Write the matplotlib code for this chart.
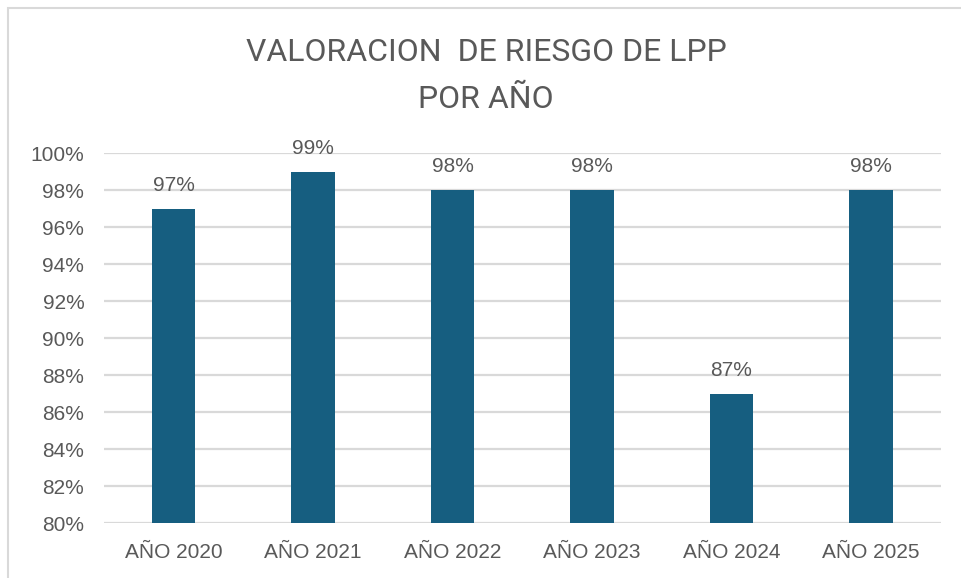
import matplotlib.pyplot as plt
from matplotlib.patches import Rectangle
from matplotlib.ticker import FuncFormatter

# datos del grafico
anios = ['AÑO 2020', 'AÑO 2021', 'AÑO 2022', 'AÑO 2023', 'AÑO 2024', 'AÑO 2025']
valores = [0.97, 0.99, 0.98, 0.98, 0.87, 0.98]
etiquetas = ['97%', '99%', '98%', '98%', '87%', '98%']

color_barra = '#165E80'
color_texto = '#595959'

fig = plt.figure(figsize=(9.61, 5.78), dpi=100)
ax = fig.add_axes([0.108, 0.095, 0.871, 0.640])

x = range(len(anios))
barras = ax.bar(x, [v - 0.80 for v in valores], bottom=0.80, width=0.31,
                color=color_barra, zorder=3)

# etiquetas encima de cada barra
for xi, v, t in zip(x, valores, etiquetas):
    ax.annotate(t, (xi, v), xytext=(0, 10), textcoords='offset points',
                ha='center', va='bottom', fontsize=15, color=color_texto,
                family='Liberation Sans')

ax.set_xlim(-0.5, len(anios) - 0.5)
ax.set_ylim(0.80, 1.00)
ax.set_yticks([0.80 + 0.02 * i for i in range(11)])
ax.yaxis.set_major_formatter(FuncFormatter(lambda v, p: f'{v * 100:.0f}%'))
ax.set_xticks(list(x))
ax.set_xticklabels(anios)
ax.grid(axis='y', color='#D9D9D9', linewidth=1.6, zorder=0)
ax.tick_params(length=0, labelsize=15, colors=color_texto)
ax.tick_params(axis='y', pad=14)
ax.tick_params(axis='x', pad=14)
for lbl in ax.get_xticklabels() + ax.get_yticklabels():
    lbl.set_family('Liberation Sans')
for s in ax.spines.values():
    s.set_visible(False)

# titulo en dos lineas
fig.text(0.5057, 0.910, 'VALORACION  DE RIESGO DE LPP', ha='center', va='center',
         fontsize=23, color=color_texto, family=['Roboto', 'DejaVu Sans'])
fig.text(0.5057, 0.828, 'POR AÑO', ha='center', va='center',
         fontsize=23, color=color_texto, family=['Roboto', 'DejaVu Sans'])

# marco del grafico
fig.patches.append(Rectangle((8 / 961, -0.05), 1.1, 1.05 - 8 / 578, transform=fig.transFigure,
                             fill=False, edgecolor='#D9D9D9', linewidth=1.5))

fig.savefig('out.png', dpi=100)
